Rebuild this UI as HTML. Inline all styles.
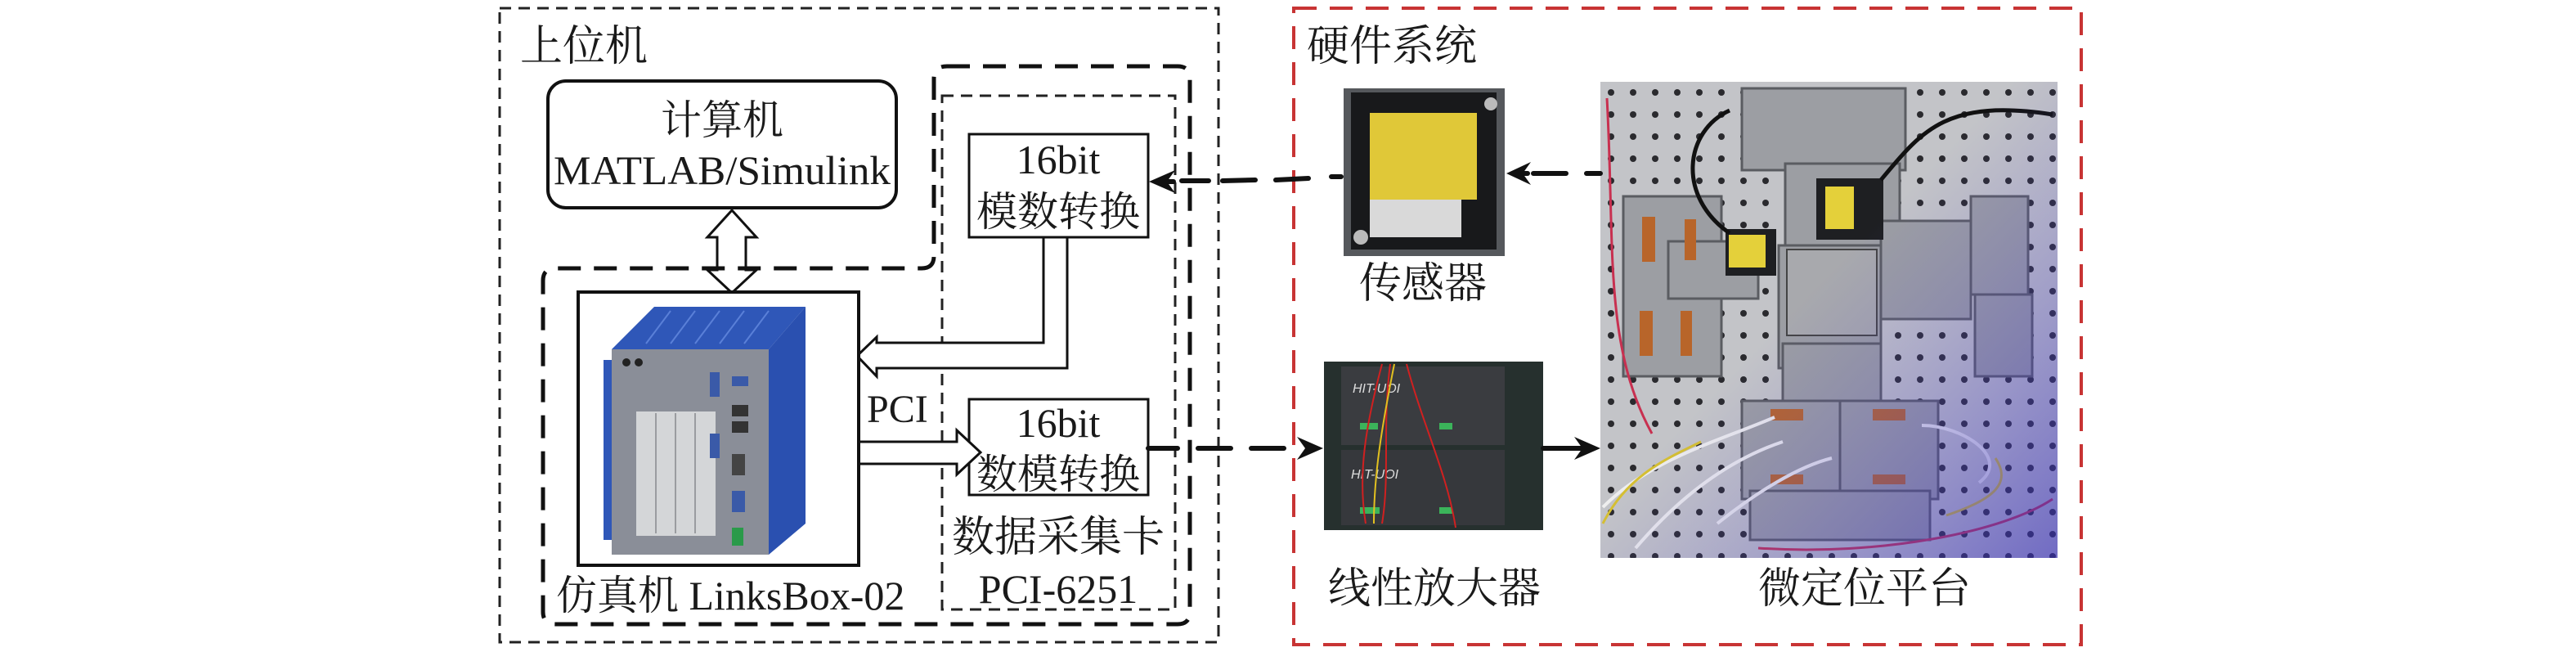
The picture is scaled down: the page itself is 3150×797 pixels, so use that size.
<!DOCTYPE html>
<html><head><meta charset="utf-8"><style>
html,body{margin:0;padding:0;background:#fff}
svg{display:block}
text{font-family:"Liberation Serif","Noto Serif CJK SC",serif;fill:#1a1a1a}
</style></head><body>
<svg width="3150" height="797" viewBox="0 0 3150 797" xmlns="http://www.w3.org/2000/svg">
<defs>
<pattern id="holes" x="1957" y="100" width="27" height="27" patternUnits="userSpaceOnUse">
<circle cx="13" cy="13" r="4" fill="#2a2a2e"/>
</pattern>
<linearGradient id="purp" x1="0" y1="0" x2="1" y2="1">
<stop offset="0.45" stop-color="#5a4fd0" stop-opacity="0"/>
<stop offset="1" stop-color="#3a30c0" stop-opacity="0.6"/>
</linearGradient>
</defs>

<rect x="611" y="10" width="879" height="775" fill="none" stroke="#222" stroke-width="3" stroke-dasharray="14 9"/>
<text x="636" y="74" font-size="52">上位机</text>

<rect x="670" y="99" width="426" height="155" rx="22" fill="none" stroke="#111" stroke-width="4"/>
<text x="883" y="164" font-size="50" text-anchor="middle">计算机</text>
<text x="883" y="225" font-size="50" text-anchor="middle" textLength="412" lengthAdjust="spacingAndGlyphs">MATLAB/Simulink</text>

<path d="M895,257 L925,290 L912,290 L912,330 L925,330 L895,358 L865,330 L877,330 L877,290 L865,290 Z" fill="#fff" stroke="#111" stroke-width="3"/>

<path d="M1158,81 L1440,81 Q1455,81 1455,96 L1455,748 Q1455,763 1440,763 L679,763 Q664,763 664,748 L664,343 Q664,328 679,328 L1127,328 Q1142,328 1142,313 L1142,96 Q1142,81 1158,81 Z" fill="none" stroke="#111" stroke-width="5" stroke-dasharray="28 16"/>
<rect x="1152" y="117" width="285" height="628" fill="none" stroke="#222" stroke-width="3" stroke-dasharray="14 9"/>

<rect x="1185" y="164" width="219" height="126" fill="#fff" stroke="#111" stroke-width="3"/>
<text x="1294" y="212" font-size="50" text-anchor="middle">16bit</text>
<text x="1294" y="276" font-size="50" text-anchor="middle">模数转换</text>

<rect x="1185" y="488" width="219" height="117" fill="#fff" stroke="#111" stroke-width="3"/>
<text x="1294" y="534" font-size="50" text-anchor="middle">16bit</text>
<text x="1294" y="597" font-size="50" text-anchor="middle">数模转换</text>

<path d="M1276,290 L1305,290 L1305,450 L1072,450 L1072,460 L1048,435 L1072,412 L1072,419 L1276,419 Z" fill="#fff" stroke="#111" stroke-width="3"/>
<path d="M1050,540 L1170,540 L1170,526 L1199,553 L1170,580 L1170,567 L1050,567" fill="#fff" stroke="#111" stroke-width="3"/>
<text x="1060" y="516" font-size="48">PCI</text>

<text x="1294" y="674" font-size="52" text-anchor="middle">数据采集卡</text>
<text x="1294" y="737" font-size="50" text-anchor="middle">PCI-6251</text>

<rect x="707" y="357" width="343" height="334" fill="#fff" stroke="#111" stroke-width="4"/>
<polygon points="748,427 800,375 985,375 940,427" fill="#2f57b8"/>
<polygon points="940,427 985,375 985,640 940,678" fill="#2a50b0"/>
<polygon points="738,440 748,440 748,660 738,660" fill="#2f57b8"/>
<g stroke="#5a80d8" stroke-width="2"><line x1="820" y1="380" x2="790" y2="420"/><line x1="850" y1="380" x2="820" y2="420"/><line x1="880" y1="380" x2="850" y2="420"/><line x1="910" y1="380" x2="880" y2="420"/><line x1="940" y1="380" x2="910" y2="420"/></g>
<rect x="748" y="427" width="192" height="251" fill="#8a8e98"/>
<rect x="778" y="503" width="97" height="152" fill="#d4d6d8"/>
<line x1="802" y1="505" x2="802" y2="652" stroke="#9a9ca0" stroke-width="2"/>
<line x1="826" y1="505" x2="826" y2="652" stroke="#9a9ca0" stroke-width="2"/>
<line x1="850" y1="505" x2="850" y2="652" stroke="#9a9ca0" stroke-width="2"/>
<rect x="868" y="455" width="12" height="30" fill="#3a5aa8"/>
<rect x="868" y="530" width="12" height="30" fill="#3a5aa8"/>
<rect x="895" y="460" width="20" height="12" fill="#3a5aa8"/>
<rect x="895" y="495" width="20" height="14" fill="#333"/>
<rect x="895" y="515" width="20" height="14" fill="#333"/>
<rect x="895" y="555" width="16" height="26" fill="#444"/>
<rect x="895" y="600" width="16" height="26" fill="#3a5aa8"/>
<rect x="895" y="645" width="14" height="22" fill="#2a9a4a"/>
<circle cx="766" cy="443" r="5" fill="#222"/><circle cx="781" cy="443" r="5" fill="#222"/>
<text x="680" y="745" font-size="50">仿真机 LinksBox-02</text>

<rect x="1582" y="10" width="963" height="778" fill="none" stroke="#c83434" stroke-width="4" stroke-dasharray="28 16"/>
<text x="1598" y="74" font-size="52">硬件系统</text>

<rect x="1643" y="108" width="197" height="205" fill="#55585c"/>
<rect x="1652" y="113" width="178" height="192" fill="#18191b"/>
<rect x="1675" y="138" width="131" height="106" fill="#e0c838"/>
<rect x="1675" y="244" width="112" height="46" fill="#d9d9d9"/>
<circle cx="1823" cy="127" r="8" fill="#bbb"/><circle cx="1664" cy="290" r="9" fill="#bbb"/>
<text x="1740" y="364" font-size="52" text-anchor="middle">传感器</text>

<rect x="1619" y="442" width="268" height="206" fill="#26302e"/>
<rect x="1640" y="448" width="200" height="96" fill="#3a3c40"/>
<rect x="1640" y="550" width="200" height="92" fill="#36383c"/>
<text x="1654" y="480" font-size="16" font-style="italic" style="fill:#ddd;font-family:'Liberation Sans',sans-serif">HIT-UOI</text>
<text x="1652" y="585" font-size="16" font-style="italic" style="fill:#ddd;font-family:'Liberation Sans',sans-serif">HIT-UOI</text>
<rect x="1663" y="517" width="22" height="8" fill="#3bb45a"/><rect x="1760" y="517" width="16" height="8" fill="#3bb45a"/>
<rect x="1663" y="620" width="24" height="8" fill="#3bb45a"/><rect x="1760" y="620" width="16" height="8" fill="#3bb45a"/>
<path d="M1690,445 C1670,520 1660,580 1670,640 M1700,445 C1690,520 1700,580 1690,640" stroke="#d02020" stroke-width="2" fill="none"/>
<path d="M1705,445 C1690,520 1680,580 1680,640" stroke="#e2c020" stroke-width="2" fill="none"/>
<path d="M1720,445 C1740,520 1770,580 1780,645" stroke="#d02020" stroke-width="2" fill="none"/>
<text x="1754" y="737" font-size="52" text-anchor="middle">线性放大器</text>

<rect x="1957" y="100" width="559" height="582" fill="#c3c4c8"/>
<rect x="1957" y="100" width="559" height="582" fill="url(#holes)"/>
<g fill="#9c9ea3" stroke="#5a5c61" stroke-width="3">
<rect x="2130" y="108" width="200" height="100"/>
<rect x="2183" y="200" width="140" height="120"/>
<rect x="1985" y="240" width="120" height="220"/>
<rect x="2040" y="295" width="110" height="70"/>
<rect x="2175" y="300" width="125" height="150"/>
<rect x="2300" y="270" width="110" height="120"/>
<rect x="2410" y="240" width="70" height="120"/>
<rect x="2415" y="360" width="70" height="100"/>
<rect x="2180" y="420" width="120" height="100"/>
<rect x="2130" y="490" width="120" height="120"/>
<rect x="2250" y="490" width="120" height="120"/>
<rect x="2140" y="600" width="220" height="60"/>
</g>
<rect x="2185" y="305" width="110" height="105" fill="#a8a9ad" stroke="#444" stroke-width="2"/>
<rect x="2110" y="280" width="62" height="57" fill="#1e1f22"/><rect x="2114" y="287" width="45" height="40" fill="#e4d03a"/>
<rect x="2221" y="218" width="82" height="75" fill="#1e1f22"/><rect x="2232" y="228" width="35" height="52" fill="#e4d03a"/>
<g fill="#b8652a"><rect x="2008" y="265" width="16" height="55"/><rect x="2060" y="268" width="14" height="50"/><rect x="2005" y="380" width="16" height="55"/><rect x="2055" y="380" width="14" height="55"/><rect x="2165" y="500" width="40" height="14"/><rect x="2290" y="500" width="40" height="14"/><rect x="2165" y="580" width="40" height="12"/><rect x="2290" y="580" width="40" height="12"/></g>
<path d="M2115,135 C2060,160 2050,240 2115,285" stroke="#111" stroke-width="5" fill="none"/>
<path d="M2300,220 C2350,160 2380,120 2510,140" stroke="#111" stroke-width="5" fill="none"/>
<path d="M1960,620 C2020,560 2100,540 2170,510 M2000,670 C2060,600 2120,560 2180,540 M2350,520 C2400,520 2460,560 2420,590 M2100,640 C2150,600 2200,570 2240,560" stroke="#eee" stroke-width="4" fill="none"/>
<path d="M1960,640 C1990,580 2040,560 2080,540 M2440,560 C2460,590 2440,610 2380,630" stroke="#d6c030" stroke-width="3" fill="none"/>
<path d="M1965,120 C1975,300 1960,420 2020,530 M2150,670 C2300,680 2450,650 2510,610" stroke="#c83050" stroke-width="3" fill="none"/>
<rect x="1957" y="100" width="559" height="582" fill="url(#purp)"/>
<text x="2280" y="737" font-size="52" text-anchor="middle">微定位平台</text>

<g stroke="#111" stroke-width="6" stroke-linecap="round" fill="none">
<path d="M1957,212 L1940,212 M1915,212 L1875,212 M1868,212 L1862,212"/>
<path d="M1640,216 L1628,216 M1600,218 L1560,220 M1535,220 L1495,221 M1478,221 L1445,221 M1435,222 L1425,222"/>
<path d="M1404,548 L1440,548 M1465,548 L1505,548 M1530,548 L1570,548"/>
<path d="M1887,548 L1935,548"/>
</g>
<g fill="#111">
<path d="M1842,212 L1872,198 L1862,212 L1872,226 Z"/>
<path d="M1405,222 L1437,208 L1427,222 L1437,236 Z"/>
<path d="M1618,548 L1586,534 L1596,548 L1586,562 Z"/>
<path d="M1957,548 L1925,534 L1935,548 L1925,562 Z"/>
</g>
</svg>
</body></html>
